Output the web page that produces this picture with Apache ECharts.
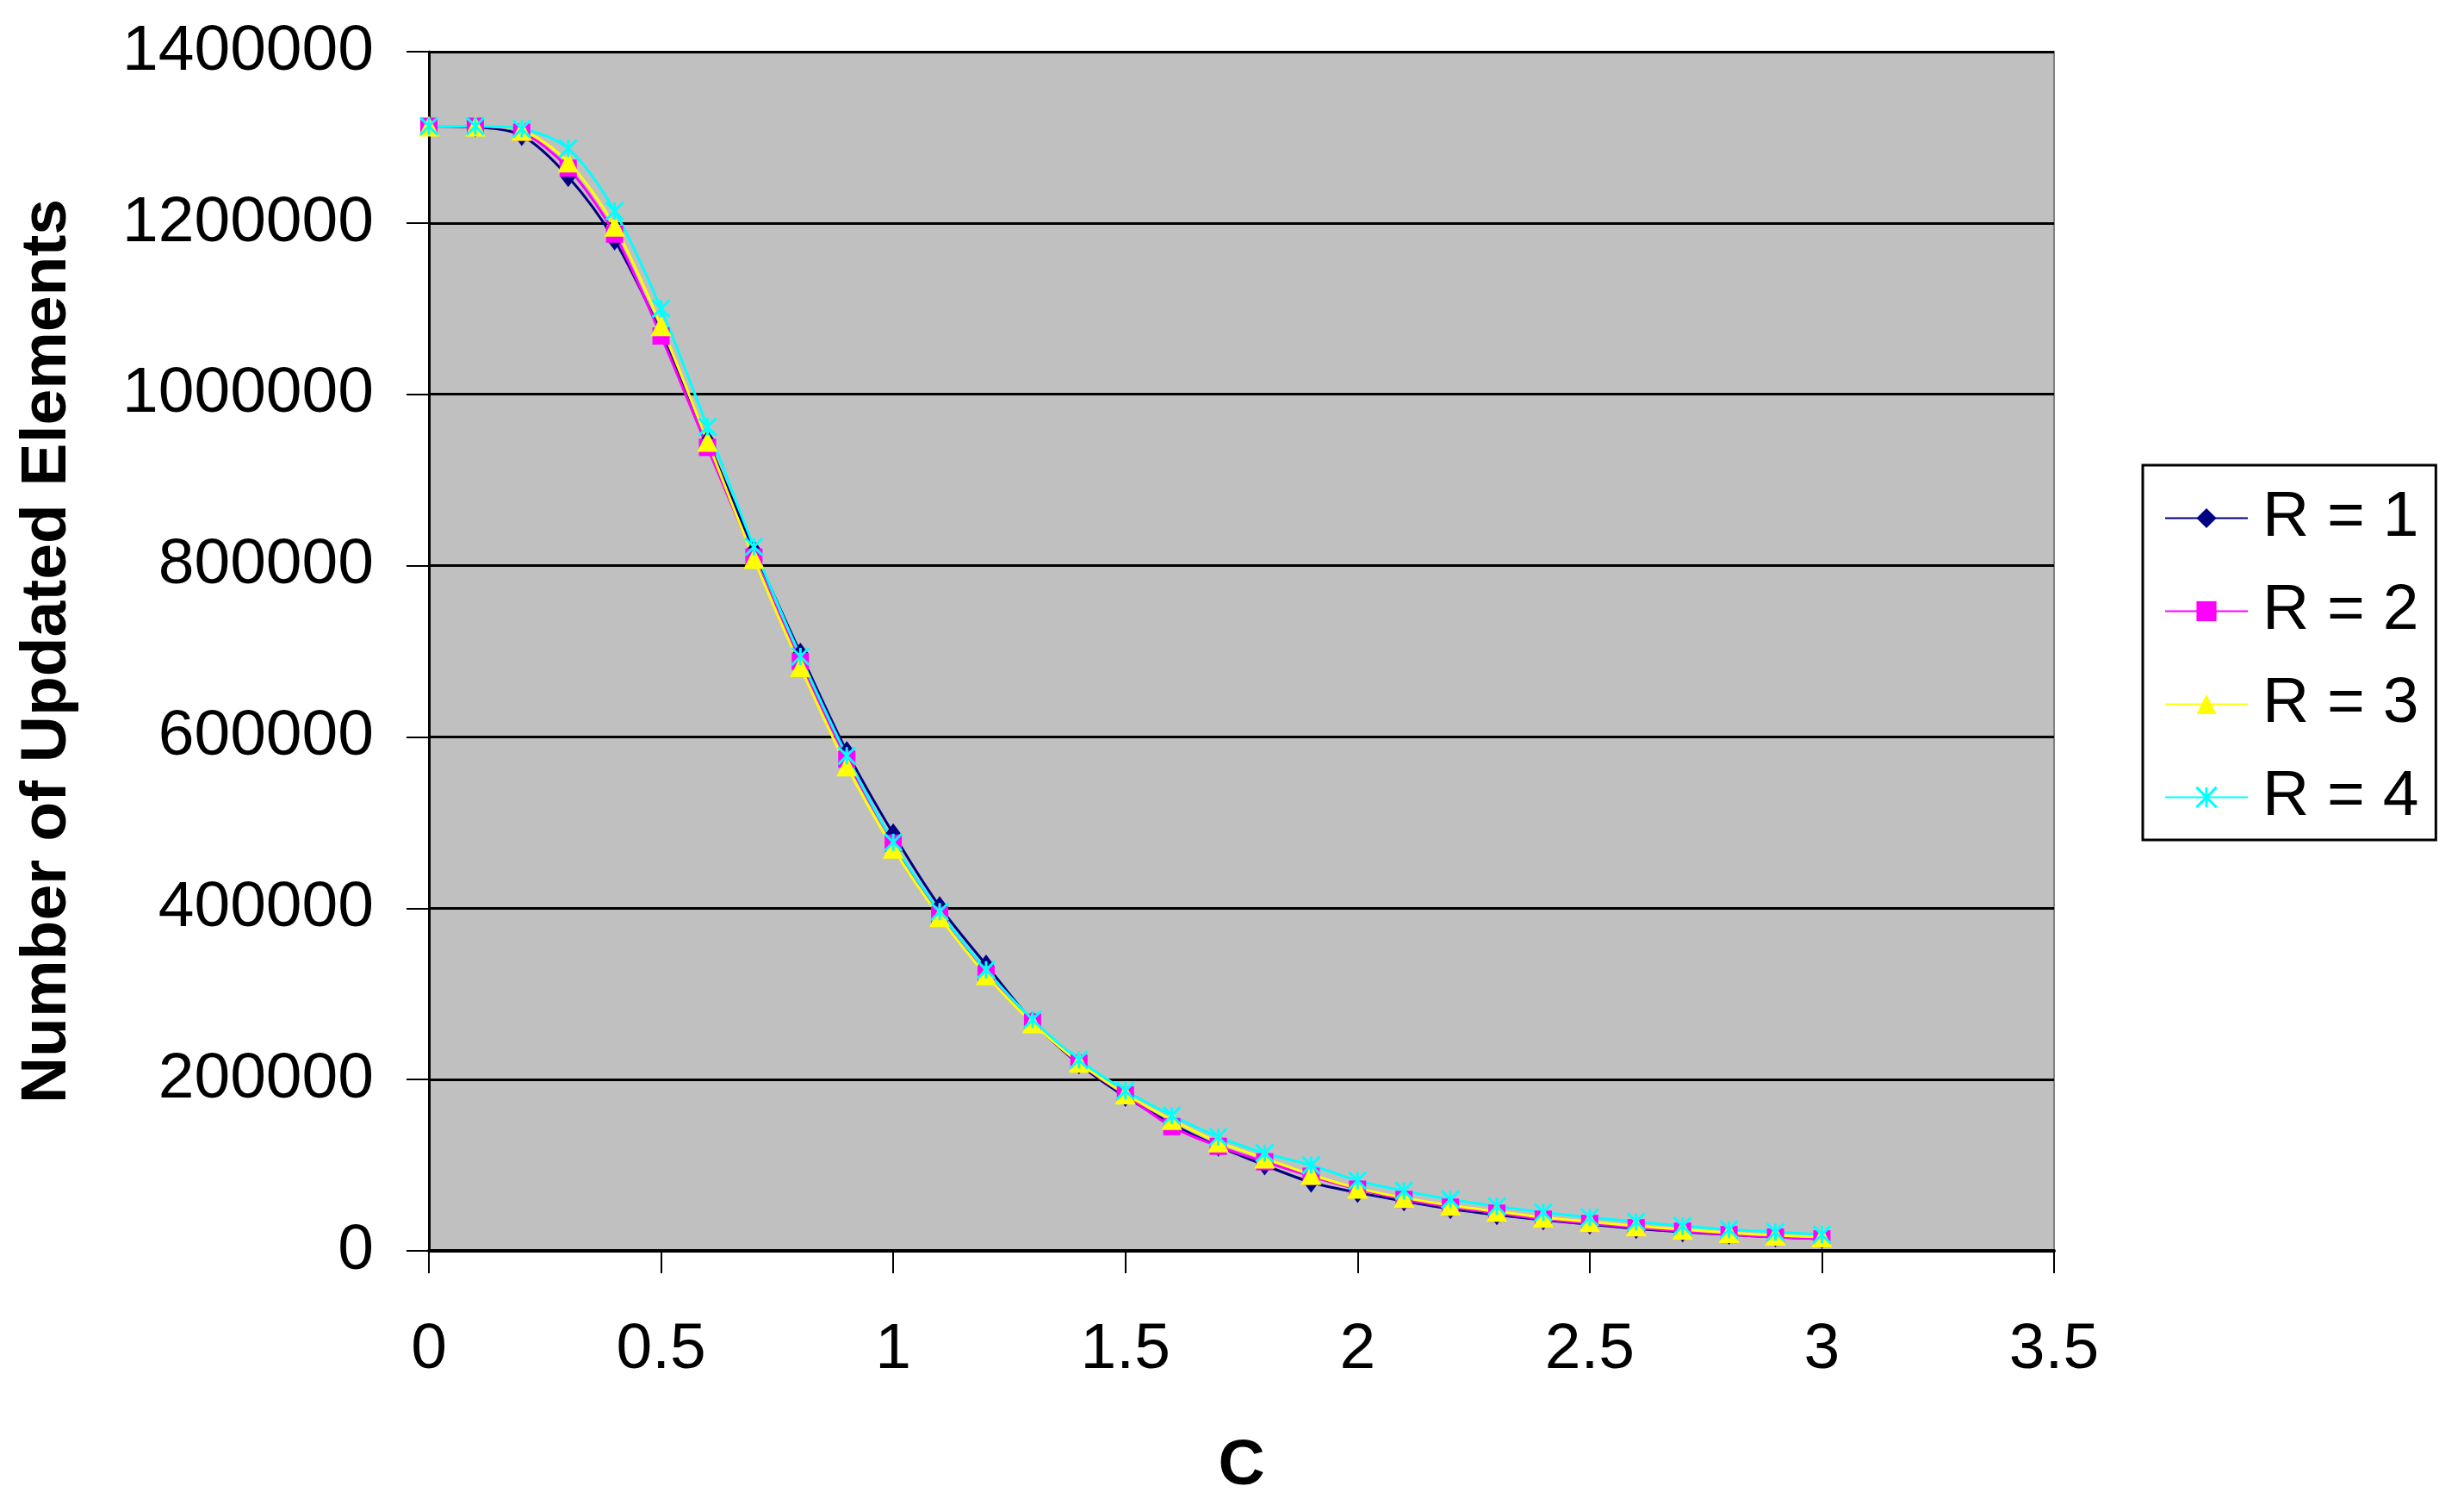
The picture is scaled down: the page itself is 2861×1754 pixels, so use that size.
<!DOCTYPE html>
<html>
<head>
<meta charset="utf-8">
<script src="https://cdn.jsdelivr.net/npm/echarts@6/dist/echarts.min.js"></script>
<style>
html,body{margin:0;padding:0;background:#fff;}
#chart{width:2861px;height:1754px;}
</style>
</head>
<body>
<div id="chart"></div>
<script>
var cValues = [0,0.1,0.2,0.3,0.4,0.5,0.6,0.7,0.8,0.9,1.0,1.1,1.2,1.3,1.4,1.5,1.6,1.7,1.8,1.9,2.0,2.1,2.2,2.3,2.4,2.5,2.6,2.7,2.8,2.9,3.0];
var r1 = [1313000,1312000,1302000,1254000,1180000,1072000,946000,818000,698000,583000,487000,402000,334000,268000,218000,180000,148000,122000,100000,80000,68000,58000,49000,42000,36000,31000,26000,22000,19000,16000,14000];
var r2 = [1313000,1313000,1306000,1264000,1187000,1068000,938000,810000,688000,574000,476000,392000,323000,267000,219000,182000,145000,122000,104000,87000,72000,60000,51000,44000,37000,32000,27000,23000,19000,16000,14000];
var r3 = [1313000,1313000,1308000,1271000,1196000,1080000,945000,808000,682000,566000,470000,390000,322000,266000,220000,183000,153000,127000,108000,89000,73000,62000,53000,46000,39000,34000,29000,25000,21000,18000,16000];
var r4 = [1313000,1313000,1310000,1287000,1214000,1100000,962000,822000,694000,578000,477000,396000,328000,270000,223000,187000,158000,133000,114000,100000,82000,70000,60000,52000,45000,39000,34000,29000,25000,22000,19000];
var seriesNames = ['R = 1','R = 2','R = 3','R = 4'];
var xTicks = {min:0, max:3.5, interval:0.5};
var yTicks = {min:0, max:1400000, interval:200000};

function pairs(arr){ return cValues.map(function(c,i){ return [c, arr[i]]; }); }

var font = 'Liberation Sans, Arial, sans-serif';
var colors = ['#000080','#FF00FF','#FFFF00','#00FFFF'];
var symbols = ['diamond','rect','triangle','path://M0,0L10,10M10,0L0,10M5,0L5,10'];
var sizes = [[18,24],20,24,20];
var datasets = [r1,r2,r3,r4];

var series = datasets.map(function(d,i){
  return {
    name: seriesNames[i],
    type: 'line',
    data: pairs(d),
    smooth: 0.3,
    symbol: symbols[i],
    symbolSize: sizes[i],
    showAllSymbol: true,
    lineStyle: {color: colors[i], width: 3},
    itemStyle: i === 3 ? {color: 'rgba(0,0,0,0)', borderColor: colors[i], borderWidth: 3} : {color: colors[i], borderWidth: 0},
    emphasis: {disabled: true},
    animation: false
  };
});

var chart = echarts.init(document.getElementById('chart'));
chart.setOption({
  animation: false,
  backgroundColor: '#ffffff',
  grid: {left: 498, right: 476, top: 60, bottom: 302, show: true, backgroundColor: '#C0C0C0', borderColor: '#808080', borderWidth: 2},
  legend: {
    orient: 'vertical',
    left: 2488, top: 540,
    backgroundColor: '#ffffff',
    borderColor: '#000000', borderWidth: 3,
    padding: [24, 20, 12, 25],
    itemWidth: 96, itemHeight: 29,
    itemGap: 33,
    textStyle: {fontFamily: font, fontSize: 75, color: '#000', lineHeight: 75, padding: [0,0,0,12]},
    data: seriesNames.map(function(n,i){ return i===3 ? {name:n, itemStyle:{color: colors[3], borderColor: colors[3], borderWidth: 3}} : {name:n}; })
  },
  xAxis: {
    type: 'value', min: xTicks.min, max: xTicks.max, interval: xTicks.interval,
    name: 'C', nameLocation: 'middle', nameGap: 213,
    nameTextStyle: {fontFamily: font, fontSize: 75, fontWeight: 'bold', color: '#000'},
    axisLine: {show: true, onZero: false, lineStyle: {color: '#000', width: 4}},
    axisTick: {show: true, inside: false, length: 26, lineStyle: {color: '#000', width: 2}},
    axisLabel: {fontFamily: font, fontSize: 75, color: '#000', margin: 78, formatter: function(v){ return String(v); }},
    splitLine: {show: false}
  },
  yAxis: {
    type: 'value', min: yTicks.min, max: yTicks.max, interval: yTicks.interval,
    name: 'Number of Updated Elements', nameLocation: 'middle', nameGap: 405,
    nameTextStyle: {fontFamily: font, fontSize: 75, fontWeight: 'bold', color: '#000'},
    axisLine: {show: true, lineStyle: {color: '#000', width: 3}},
    axisTick: {show: true, inside: false, length: 26, lineStyle: {color: '#000', width: 2}},
    axisLabel: {fontFamily: font, fontSize: 75, color: '#000', margin: 64, formatter: function(v){ return String(v); }},
    splitLine: {show: true, lineStyle: {color: '#000', width: 3}}
  },
  series: series
});
</script>
</body>
</html>
